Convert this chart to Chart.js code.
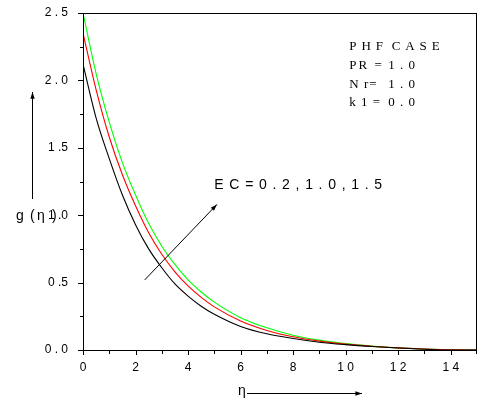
<!DOCTYPE html>
<html>
<head>
<meta charset="utf-8">
<script src="https://cdn.jsdelivr.net/npm/chart.js@4/dist/chart.umd.min.js"></script>
<style>
  html, body { margin: 0; padding: 0; background: #fff; }
</style>
</head>
<body>
<canvas id="c" width="478" height="400"></canvas>
<script>
// similarity variable
const eta = [0, 0.5, 1, 1.5, 2, 2.5, 3, 3.5, 4, 4.5, 5, 6, 7, 8, 9, 10, 11, 12, 13, 14, 15];
// g(eta) for EC = 0.2, 1.0, 1.5
const gEc02 = [2.12, 1.72, 1.42, 1.15, 0.93, 0.75, 0.61, 0.49, 0.40, 0.325, 0.265, 0.175, 0.12, 0.085, 0.058, 0.04, 0.026, 0.015, 0.006, 0.0, 0.0];
const gEc10 = [2.35, 1.93, 1.58, 1.30, 1.07, 0.87, 0.71, 0.58, 0.475, 0.39, 0.32, 0.215, 0.145, 0.098, 0.066, 0.044, 0.028, 0.016, 0.007, 0.001, 0.0];
const gEc15 = [2.50, 2.05, 1.69, 1.39, 1.15, 0.94, 0.77, 0.635, 0.52, 0.43, 0.355, 0.24, 0.165, 0.11, 0.073, 0.047, 0.029, 0.016, 0.007, 0.001, 0.0];

const xTickValues = [0, 2, 4, 6, 8, 10, 12, 14];
const xTickLabels = ["0", "2", "4", "6", "8", "1 0", "1 2", "1 4"];
const yTickValues = [0, 0.5, 1, 1.5, 2, 2.5];
const yTickLabels = ["0 . 0", "0 .5", "1 .0", "1 .5", "2 . 0", "2 . 5"];

// parameter block: [name part, value part]
const caseTitle = "P H F  C A S E";
const caseParams = [["PR =", "1 . 0"], ["N r=", "1 . 0"], ["k 1 =", "0 . 0"]];
const ecLabel = "E C = 0 . 2 , 1 . 0 , 1 . 5";

const SANS = '"Liberation Sans", Arial, sans-serif';
const SERIF = '"Liberation Serif", "Times New Roman", serif';

function pts(ys) { return eta.map((x, i) => ({ x: x, y: ys[i] })); }

function labelFor(values, labels, v) {
  for (let i = 0; i < values.length; i++) {
    if (Math.abs(values[i] - v) < 1e-6) return labels[i];
  }
  return '';
}

function seg(ctx, x1, y1, x2, y2) {
  ctx.beginPath();
  ctx.moveTo(x1, y1);
  ctx.lineTo(x2, y2);
  ctx.stroke();
}

function arrow(ctx, x1, y1, x2, y2, head) {
  seg(ctx, x1, y1, x2, y2);
  const a = Math.atan2(y2 - y1, x2 - x1);
  ctx.beginPath();
  ctx.moveTo(x2, y2);
  ctx.lineTo(x2 - head * Math.cos(a - 0.32), y2 - head * Math.sin(a - 0.32));
  ctx.lineTo(x2 - head * Math.cos(a + 0.32), y2 - head * Math.sin(a + 0.32));
  ctx.closePath();
  ctx.fill();
}

function spacedText(ctx, text, x, y, spacing) {
  ctx.letterSpacing = spacing + 'px';
  ctx.fillText(text, x, y);
  ctx.letterSpacing = '0px';
}

const decor = {
  id: 'decor',
  afterDraw(chart) {
    const ctx = chart.ctx;
    const xs = chart.scales.x, ys = chart.scales.y;
    const a = chart.chartArea;
    ctx.save();
    ctx.setLineDash([]);
    ctx.strokeStyle = '#000';
    ctx.fillStyle = '#000';
    ctx.lineWidth = 1;

    // plot frame as 1px solid bars
    const L = Math.round(a.left), R = Math.round(a.right), T = Math.round(a.top), B = Math.round(a.bottom);
    ctx.fillRect(L, T, R - L, 1);
    ctx.fillRect(L, B, R - L, 1);
    ctx.fillRect(L, T, 1, B - T + 1);
    ctx.fillRect(R - 1, T, 1, B - T + 1);

    // y ticks: major every 0.5, minor between
    for (let i = 0; i <= 10; i++) {
      const y = Math.round(ys.getPixelForValue(i * 0.25));
      const len = i % 2 === 0 ? 5 : 3;
      ctx.fillRect(L - len, y, len, 1);
    }
    // x ticks: major every 2, minor between
    for (let v = 0; v <= 15; v++) {
      const x = Math.min(Math.round(xs.getPixelForValue(v)), R - 1);
      ctx.fillRect(x, B, 1, v % 2 === 0 ? 5 : 4);
    }

    // parameter block
    ctx.font = '13px ' + SERIF;
    ctx.textBaseline = 'middle';
    ctx.textAlign = 'left';
    const cx = xs.getPixelForValue(10.14);
    const vx = xs.getPixelForValue(11.62);
    const cy = ys.getPixelForValue(2.253);
    spacedText(ctx, caseTitle, cx, cy, 0.8);
    caseParams.forEach((p, i) => {
      const y = cy + (i + 1) * 18.9;
      spacedText(ctx, p[0], cx, y, i === 0 ? 2 : 1);
      spacedText(ctx, p[1], vx, y, 1);
    });

    // EC direction arrow and label
    ctx.font = '14px ' + SANS;
    spacedText(ctx, ecLabel, xs.getPixelForValue(5.0), ys.getPixelForValue(1.22), 0.9);
    arrow(ctx, xs.getPixelForValue(2.35), ys.getPixelForValue(0.52),
               xs.getPixelForValue(5.1), ys.getPixelForValue(1.08), 7);

    // y-axis title with upward arrow
    const ty = ys.getPixelForValue(1.0) + 1;
    ctx.fillText('g', 16, ty);
    ctx.fillText('(', 30, ty);
    ctx.fillText('η', 37, ty);
    ctx.fillText(')', 52, ty);
    arrow(ctx, 32.5, 199, 32.5, 92, 7);

    // x-axis title with rightward arrow
    ctx.fillText('η', 238, 391);
    arrow(ctx, 247, 393.5, 362, 393.5, 7);

    ctx.restore();
  }
};

const lineDs = (label, ys, color) => ({
  label: label,
  data: pts(ys),
  borderColor: color,
  backgroundColor: color,
  borderWidth: 1.1,
  pointRadius: 0,
  fill: false,
  cubicInterpolationMode: 'monotone'
});

new Chart(document.getElementById('c'), {
  type: 'line',
  data: {
    datasets: [
      lineDs('EC = 0.2', gEc02, '#000000'),
      lineDs('EC = 1.0', gEc10, '#ff0000'),
      lineDs('EC = 1.5', gEc15, '#00ff00')
    ]
  },
  options: {
    responsive: false,
    devicePixelRatio: 1,
    animation: false,
    layout: { padding: { top: 13, right: 1, left: 0, bottom: 0 } },
    plugins: { legend: { display: false }, tooltip: { enabled: false } },
    scales: {
      x: {
        type: 'linear',
        min: 0, max: 15,
        grid: { display: false },
        border: { display: false },
        ticks: {
          stepSize: 1,
          autoSkip: false,
          maxRotation: 0,
          padding: 2,
          color: '#000',
          font: { family: SANS, size: 12 },
          callback: v => labelFor(xTickValues, xTickLabels, v)
        },
        afterFit: s => { s.height = 50; s.paddingLeft = 0; s.paddingRight = 0; }
      },
      y: {
        type: 'linear',
        min: 0, max: 2.5,
        grid: { display: false },
        border: { display: false },
        ticks: {
          stepSize: 0.25,
          autoSkip: false,
          padding: 7,
          color: '#000',
          font: { family: SANS, size: 12 },
          callback: v => labelFor(yTickValues, yTickLabels, v)
        },
        afterFit: s => { s.width = 83; s.paddingTop = 0; s.paddingBottom = 0; }
      }
    }
  },
  plugins: [decor]
});
</script>
</body>
</html>
